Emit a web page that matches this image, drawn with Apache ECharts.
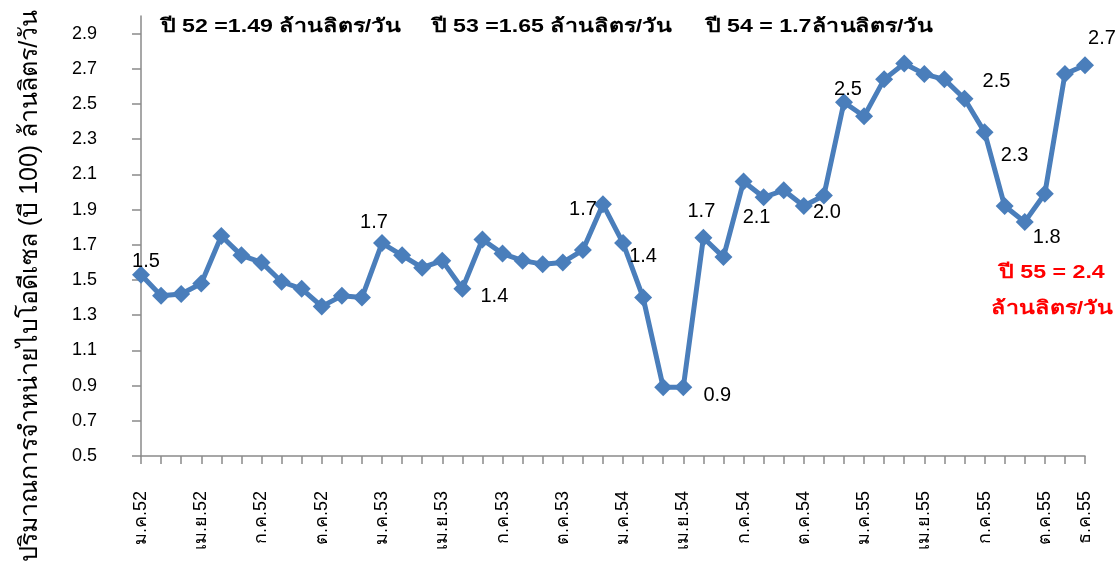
<!DOCTYPE html>
<html>
<head>
<meta charset="utf-8">
<script src="https://cdn.jsdelivr.net/npm/echarts@6/dist/echarts.min.js"></script>
<style>
html,body{margin:0;padding:0;background:#fff;}
#chart{width:1115px;height:563px;}
</style>
</head>
<body>
<div id="chart"></div>
<script>
// ---- data ----
const monthNames = ['ม.ค.','ก.พ.','มี.ค.','เม.ย.','พ.ค.','มิ.ย.','ก.ค.','ส.ค.','ก.ย.','ต.ค.','พ.ย.','ธ.ค.'];
const years = ['52','53','54','55'];
const values52 = [1.53,1.41,1.42,1.48,1.75,1.64,1.60,1.49,1.45,1.35,1.41,1.40];
const values53 = [1.71,1.64,1.57,1.61,1.45,1.73,1.65,1.61,1.59,1.60,1.67,1.93];
const values54 = [1.71,1.40,0.89,0.89,1.74,1.63,2.06,1.97,2.01,1.92,1.98,2.51];
const values55 = [2.43,2.64,2.73,2.67,2.64,2.53,2.34,1.92,1.83,1.99,2.67,2.72];
const yTicks = [0.5,0.7,0.9,1.1,1.3,1.5,1.7,1.9,2.1,2.3,2.5,2.7,2.9];
// data label texts as printed on the chart (index -> text)
const labelTexts = {0:'1.5',12:'1.7',16:'1.4',23:'1.7',24:'1.4',27:'0.9',28:'1.7',30:'2.1',34:'2.0',35:'2.5',41:'2.5',42:'2.3',44:'1.8',47:'2.7'};
const yearNotes = ['ปี 52 =1.49 ล้านลิตร/วัน','ปี 53 =1.65 ล้านลิตร/วัน','ปี 54 = 1.7ล้านลิตร/วัน'];
const redNote = ['ปี 55 = 2.4','ล้านลิตร/วัน'];
const yAxisName = 'ปริมาณการจำหน่ายไบโอดีเซล (บี 100) ล้านลิตร/วัน';

// ---- build ----
const categories = [];
years.forEach(y => monthNames.forEach(m => categories.push(m + y)));
const values = [].concat(values52, values53, values54, values55);

// label placement (style, not data)
const labelOffsets = {0:[5,-13],12:[-8,-21],16:[32,8],23:[-20,5],24:[20,13],27:[34,8],28:[-2,-26],30:[13,36],34:[3,17],35:[4,-13],41:[32,-17],42:[30,23],44:[22,16],47:[17,-27]};

const FONT = '"Liberation Sans", Arial, "DejaVu Sans", sans-serif';
const seriesData = values.map((v, i) => {
  const item = { value: v };
  if (labelTexts[i] !== undefined) {
    item.label = {
      show: true,
      position: 'inside',
      offset: labelOffsets[i],
      formatter: labelTexts[i],
      fontSize: 20,
      color: '#000',
      fontFamily: FONT
    };
  }
  return item;
});

const chart = echarts.init(document.getElementById('chart'), null, {renderer: 'canvas'});
const axisGray = '#8a8a8a';
const noteText = (txt, x, y, align, color) => ({
  type: 'text', x: x, y: y, scaleX: 1.22, z: 10,
  style: { text: txt, font: 'bold 19px ' + FONT, fill: color, align: align, verticalAlign: 'middle' }
});
chart.setOption({
  animation: false,
  backgroundColor: '#fff',
  grid: { left: 141, right: 30, top: 16, bottom: 107, containLabel: false, outerBoundsMode: 'none' },
  xAxis: {
    type: 'category',
    data: categories,
    boundaryGap: false,
    axisLine: { lineStyle: { color: axisGray, width: 1.5 } },
    axisTick: { show: true, interval: 0, length: 8, lineStyle: { color: axisGray, width: 1.5 } },
    axisLabel: {
      interval: (idx) => idx % 3 === 0 || idx === categories.length - 1,
      rotate: 90,
      margin: 35,
      fontSize: 18,
      color: '#000',
      fontFamily: FONT
    },
    splitLine: { show: false }
  },
  yAxis: {
    type: 'value',
    min: 0.5,
    max: 3.0,
    interval: 0.2,
    name: yAxisName,
    nameLocation: 'middle',
    nameRotate: 90,
    nameGap: 98,
    nameTextStyle: { fontSize: 25, color: '#000', fontFamily: FONT, padding: [0, 100, 0, 0] },
    axisLine: { show: true, lineStyle: { color: axisGray, width: 1.5 } },
    axisTick: { show: true, length: 9, lineStyle: { color: axisGray, width: 1.5 } },
    axisLabel: {
      showMaxLabel: false,
      margin: 44,
      fontSize: 18,
      color: '#000',
      fontFamily: FONT,
      formatter: (v) => yTicks.some(t => Math.abs(t - v) < 1e-6) ? v.toFixed(1) : ''
    },
    splitLine: { show: false }
  },
  series: [{
    type: 'line',
    data: seriesData,
    symbol: 'diamond',
    symbolSize: 18,
    showSymbol: true,
    showAllSymbol: true,
    lineStyle: { color: '#4A7EBB', width: 5 },
    itemStyle: { color: '#4A7EBB' },
    label: { show: false },
    z: 3
  }],
  graphic: [
    noteText(yearNotes[0], 161, 27, 'left', '#000'),
    noteText(yearNotes[1], 432, 27, 'left', '#000'),
    noteText(yearNotes[2], 706, 27, 'left', '#000'),
    noteText(redNote[0], 1052, 273, 'center', '#FF0000'),
    noteText(redNote[1], 1052, 309, 'center', '#FF0000')
  ]
});
</script>
</body>
</html>
